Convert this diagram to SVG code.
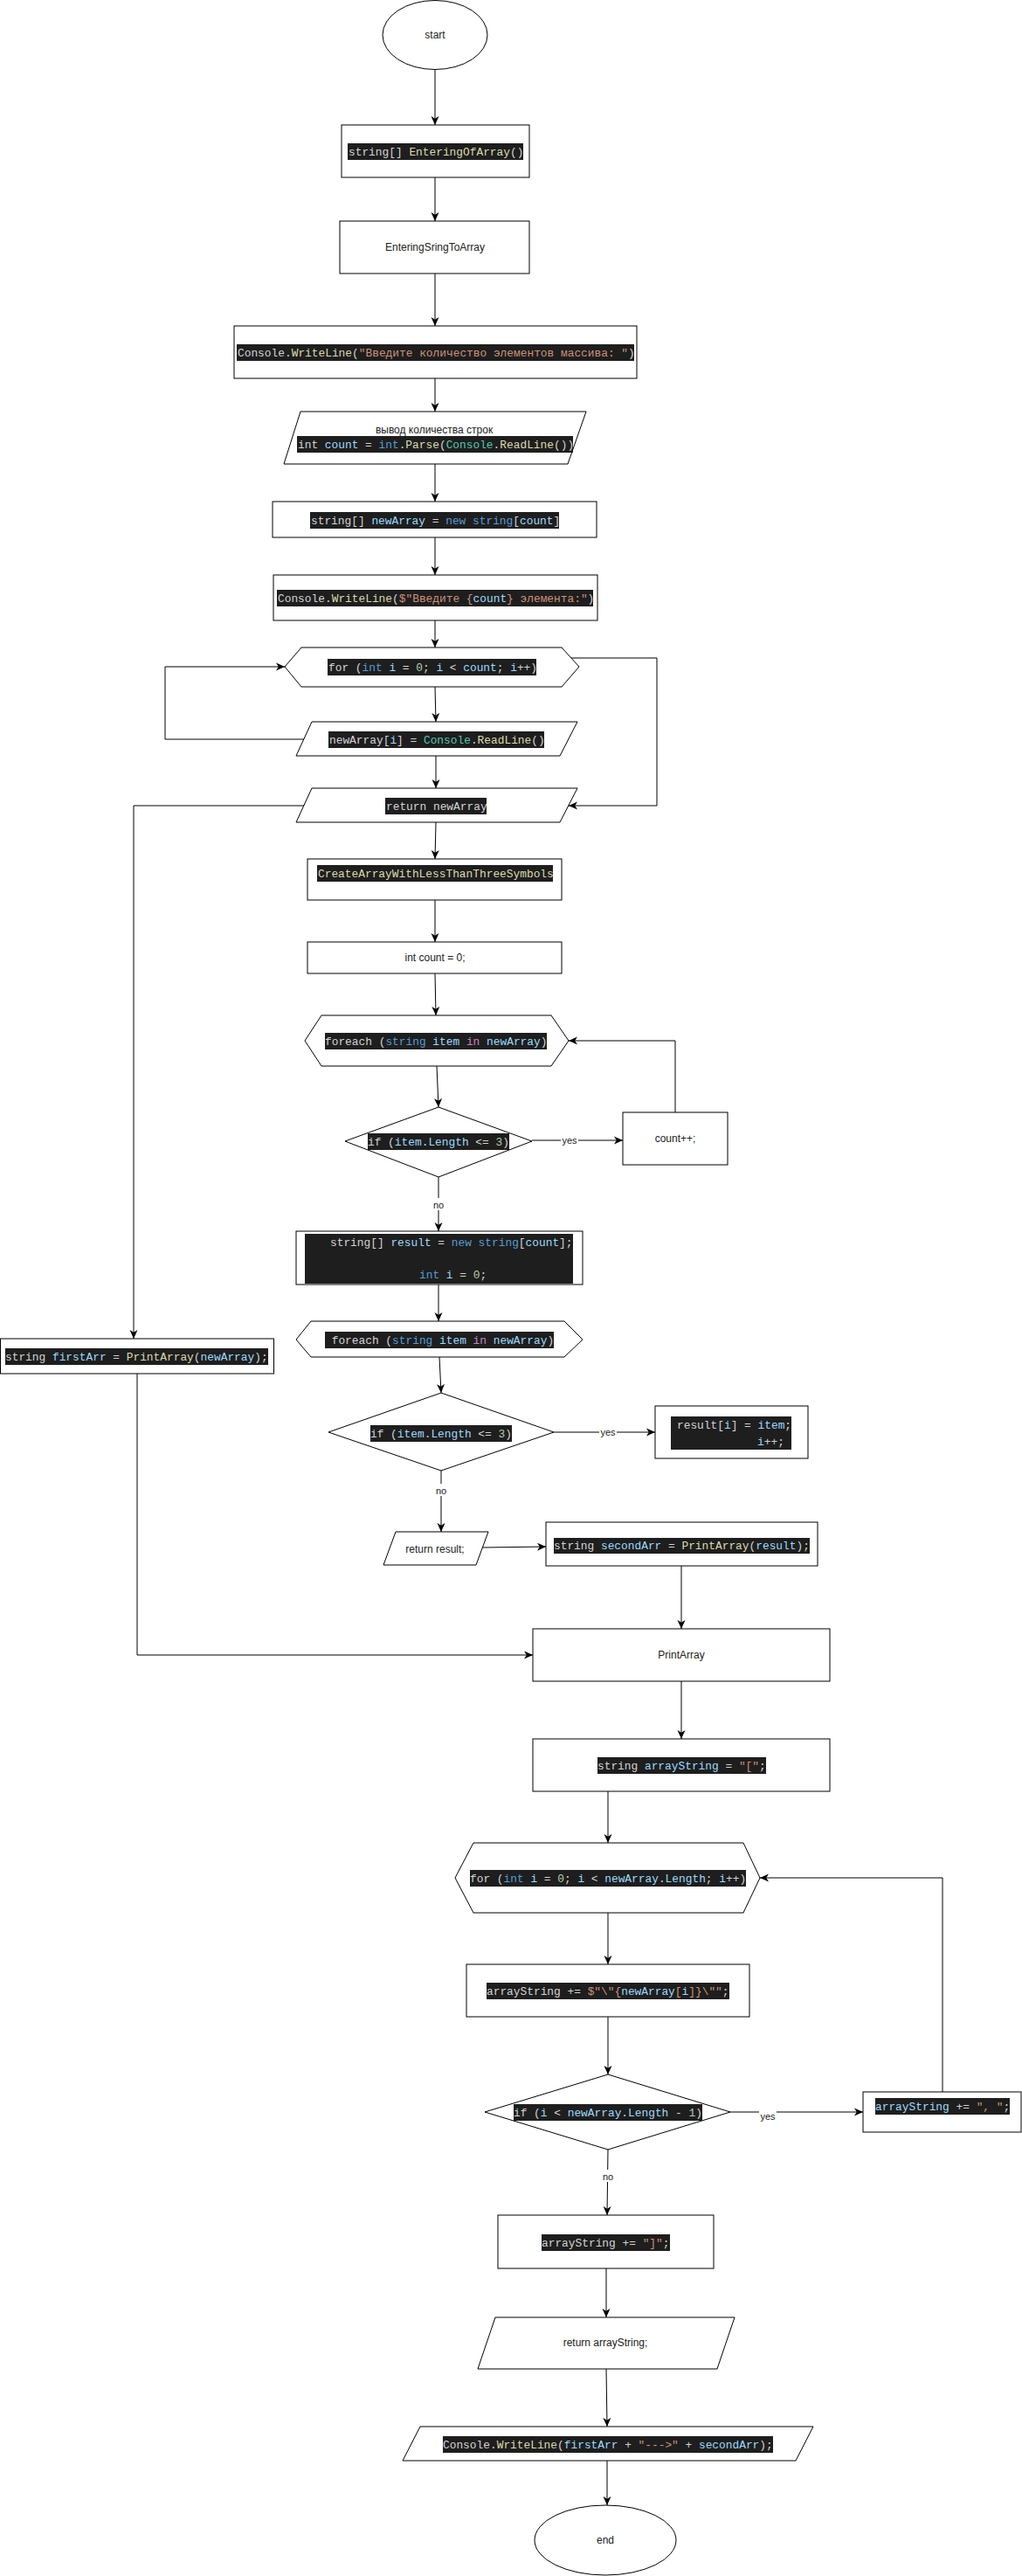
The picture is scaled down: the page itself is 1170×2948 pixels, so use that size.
<svg xmlns="http://www.w3.org/2000/svg" width="1170" height="2948" viewBox="0 0 1170 2948">
<style>
.n{fill:#fff;stroke:#000;stroke-width:1}
.bg{fill:#1e1e1e}
.c{font-family:"Liberation Mono","DejaVu Sans Mono",monospace;font-size:12.85px;fill:#d4d4d4;white-space:pre}
.t{font-family:"Liberation Sans",Arial,sans-serif;font-size:12px;fill:#222;text-anchor:middle}
.lbl{font-family:"Liberation Sans",Arial,sans-serif;font-size:11px;fill:#222;text-anchor:middle}
.e{fill:none;stroke:#000;stroke-width:1;marker-end:url(#arr)}
.lb{fill:#9cdcfe}.b{fill:#569cd6}.y{fill:#dcdcaa}.tl{fill:#4ec9b0}.o{fill:#ce9178}.g{fill:#b5cea8}.p{fill:#c586c0}
</style>
<defs>
<marker id="arr" markerUnits="userSpaceOnUse" markerWidth="10" markerHeight="10" refX="10" refY="5" orient="auto">
<path d="M0,0.5 L10,5 L0,9.5 L2.8,5 z" fill="#000"/>
</marker>
</defs>
<rect width="1170" height="2948" fill="#fff"/>

<g id="connectors">
<path class="e" d="M498,80 V143"/>
<path class="e" d="M498,203 V253"/>
<path class="e" d="M498,313 V373"/>
<path class="e" d="M498,433 V471"/>
<path class="e" d="M498,531 V574"/>
<path class="e" d="M498,615 V658"/>
<path class="e" d="M498,710 V741"/>
<path class="e" d="M498,786 L499,826"/>
<path class="e" d="M499,865 V902"/>
<path class="e" d="M348,846 H189 V763 H326"/>
<path class="e" d="M654,753 H752 V922 H651"/>
<path class="e" d="M499,941 L498,983"/>
<path class="e" d="M498,1030 V1078"/>
<path class="e" d="M498,1114 L499,1162"/>
<path class="e" d="M500,1220 L502,1267"/>
<path class="e" d="M609,1305 H713"/>
<path class="e" d="M773,1273 V1191 H651"/>
<path class="e" d="M502,1347 V1409"/>
<path class="e" d="M502,1470 V1512"/>
<path class="e" d="M503,1553 L505,1594"/>
<path class="e" d="M634,1639 H750"/>
<path class="e" d="M505,1683 V1753"/>
<path class="e" d="M552,1771 L625,1770"/>
<path class="e" d="M780,1792 V1864"/>
<path class="e" d="M348,922 H153 V1532"/>
<path class="e" d="M157,1572 V1894 H610"/>
<path class="e" d="M780,1924 V1990"/>
<path class="e" d="M696,2050 V2109"/>
<path class="e" d="M696,2189 V2248"/>
<path class="e" d="M696,2308 V2374"/>
<path class="e" d="M836,2417 H988"/>
<path class="e" d="M1079,2394 V2149 H870"/>
<path class="e" d="M696,2460 L695,2535"/>
<path class="e" d="M694,2596 V2652"/>
<path class="e" d="M694,2711 L695,2777"/>
<path class="e" d="M695,2816 V2867"/>
<!-- branch labels -->
<rect x="642" y="1297" width="20" height="14" fill="#fff"/>
<text class="lbl" x="652" y="1309">yes</text>
<rect x="494" y="1371" width="16" height="14" fill="#fff"/>
<text class="lbl" x="502" y="1383">no</text>
<rect x="686" y="1631" width="20" height="14" fill="#fff"/>
<text class="lbl" x="696" y="1643">yes</text>
<rect x="497" y="1698" width="16" height="14" fill="#fff"/>
<text class="lbl" x="505" y="1710">no</text>
<rect x="869" y="2413" width="20" height="14" fill="#fff"/>
<text class="lbl" x="879" y="2426">yes</text>
<rect x="688" y="2483" width="16" height="14" fill="#fff"/>
<text class="lbl" x="696" y="2495">no</text>
</g>

<g id="start">
<ellipse class="n" cx="498" cy="40" rx="60" ry="39.5"/>
<text class="t" x="498" y="44">start</text>
</g>

<g id="entering-of-array">
<rect class="n" x="391" y="143" width="215" height="60"/>
<rect class="bg" x="398" y="164" width="201" height="19"/>
<text class="c" x="399" y="178">string[] <tspan class="y">EnteringOfArray</tspan>()</text>
</g>

<g id="entering-string-to-array">
<rect class="n" x="389" y="253" width="217" height="60"/>
<text class="t" x="498" y="287">EnteringSringToArray</text>
</g>

<g id="prompt-count">
<rect class="n" x="268" y="373" width="461" height="60"/>
<rect class="bg" x="271" y="394" width="455" height="19"/>
<text class="c" x="272" y="408">Console.<tspan class="y">WriteLine</tspan>(<tspan class="o">"Введите количество элементов массива: "</tspan>)</text>
</g>

<g id="read-count">
<polygon class="n" points="344,471 671,471 650,531 325,531"/>
<text class="t" x="497" y="496">вывод количества строк</text>
<rect class="bg" x="340" y="499" width="316" height="19"/>
<text class="c" x="341" y="513">int <tspan class="lb">count</tspan> = <tspan class="b">int</tspan>.<tspan class="y">Parse</tspan>(<tspan class="tl">Console</tspan>.<tspan class="y">ReadLine</tspan>())</text>
</g>

<g id="new-array">
<rect class="n" x="312" y="574" width="371" height="41"/>
<rect class="bg" x="355" y="586" width="285" height="19"/>
<text class="c" x="356" y="600">string[] <tspan class="lb">newArray</tspan> = <tspan class="b">new</tspan> <tspan class="b">string</tspan>[<tspan class="lb">count</tspan>]</text>
</g>

<g id="prompt-elements">
<rect class="n" x="313" y="658" width="371" height="52"/>
<rect class="bg" x="317" y="675" width="362" height="19"/>
<text class="c" x="318" y="689">Console.<tspan class="y">WriteLine</tspan>(<tspan class="o">$"Введите {</tspan><tspan class="lb">count</tspan><tspan class="o">} элемента:"</tspan>)</text>
</g>

<g id="for-count">
<polygon class="n" points="326,763 345,741 643,741 663,763 643,786 345,786"/>
<rect class="bg" x="375" y="754" width="239" height="19"/>
<text class="c" x="376" y="768">for (<tspan class="b">int</tspan> <tspan class="lb">i</tspan> = <tspan class="g">0</tspan>; <tspan class="lb">i</tspan> &lt; <tspan class="lb">count</tspan>; <tspan class="lb">i</tspan>++)</text>
</g>

<g id="read-element">
<polygon class="n" points="357,826 661,826 641,865 339,865"/>
<rect class="bg" x="376" y="837" width="247" height="19"/>
<text class="c" x="377" y="851">newArray[<tspan class="lb">i</tspan>] = <tspan class="tl">Console</tspan>.<tspan class="y">ReadLine</tspan>()</text>
</g>

<g id="return-new-array">
<polygon class="n" points="357,902 661,902 641,941 339,941"/>
<rect class="bg" x="441" y="913" width="116" height="19"/>
<text class="c" x="442" y="927">return newArray</text>
</g>

<g id="create-array">
<rect class="n" x="352" y="983" width="291" height="47"/>
<rect class="bg" x="363" y="990" width="270" height="19"/>
<text class="c y" x="364" y="1004">CreateArrayWithLessThanThreeSymbols</text>
</g>

<g id="count-zero">
<rect class="n" x="352" y="1078" width="291" height="36"/>
<text class="t" x="498" y="1100">int count = 0;</text>
</g>

<g id="foreach-count">
<polygon class="n" points="349,1191 368,1162 631,1162 651,1191 631,1220 368,1220"/>
<rect class="bg" x="372" y="1182" width="254" height="19"/>
<text class="c" x="372" y="1196">foreach (<tspan class="b">string</tspan> <tspan class="lb">item</tspan> <tspan class="p">in</tspan> <tspan class="lb">newArray</tspan>)</text>
</g>

<g id="if-length-count">
<polygon class="n" points="395,1306 502,1267 609,1306 502,1347"/>
<rect class="bg" x="421" y="1297" width="162" height="19"/>
<text class="c" x="421" y="1311">if (<tspan class="lb">item</tspan>.<tspan class="lb">Length</tspan> &lt;= <tspan class="g">3</tspan>)</text>
</g>

<g id="count-inc">
<rect class="n" x="713" y="1273" width="120" height="60"/>
<text class="t" x="773" y="1307">count++;</text>
</g>

<g id="result-decl">
<rect class="n" x="339" y="1409" width="328" height="61"/>
<rect class="bg" x="349" y="1412" width="307" height="57"/>
<text class="c" x="378" y="1426">string[] <tspan class="lb">result</tspan> = <tspan class="b">new</tspan> <tspan class="b">string</tspan>[<tspan class="lb">count</tspan>];</text>
<text class="c" x="480" y="1463"><tspan class="b">int</tspan> <tspan class="lb">i</tspan> = <tspan class="g">0</tspan>;</text>
</g>

<g id="foreach-fill">
<polygon class="n" points="339,1533 356,1512 646,1512 667,1533 646,1553 356,1553"/>
<rect class="bg" x="372" y="1524" width="262" height="19"/>
<text class="c" x="372" y="1538"> foreach (<tspan class="b">string</tspan> <tspan class="lb">item</tspan> <tspan class="p">in</tspan> <tspan class="lb">newArray</tspan>)</text>
</g>

<g id="first-arr">
<rect class="n" x="0.5" y="1532" width="313" height="40"/>
<rect class="bg" x="6" y="1543" width="301" height="19"/>
<text class="c" x="6" y="1557">string <tspan class="lb">firstArr</tspan> = <tspan class="y">PrintArray</tspan>(<tspan class="lb">newArray</tspan>);</text>
</g>

<g id="if-length-fill">
<polygon class="n" points="376,1639 505,1594 634,1639 505,1683"/>
<rect class="bg" x="424" y="1631" width="162" height="19"/>
<text class="c" x="424" y="1645">if (<tspan class="lb">item</tspan>.<tspan class="lb">Length</tspan> &lt;= <tspan class="g">3</tspan>)</text>
</g>

<g id="result-assign">
<rect class="n" x="750" y="1609" width="175" height="60"/>
<rect class="bg" x="768" y="1621" width="138" height="38"/>
<text class="c" x="775" y="1635">result[<tspan class="lb">i</tspan>] = <tspan class="lb">item</tspan>;</text>
<text class="c" x="867" y="1654"><tspan class="lb">i</tspan>++;</text>
</g>

<g id="return-result">
<polygon class="n" points="453,1753 559,1753 545,1791 439,1791"/>
<text class="t" x="498" y="1777">return result;</text>
</g>

<g id="second-arr">
<rect class="n" x="625" y="1742" width="311" height="50"/>
<rect class="bg" x="634" y="1760" width="293" height="18"/>
<text class="c" x="634" y="1773">string <tspan class="lb">secondArr</tspan> = <tspan class="y">PrintArray</tspan>(<tspan class="lb">result</tspan>);</text>
</g>

<g id="print-array">
<rect class="n" x="610" y="1864" width="340" height="60"/>
<text class="t" x="780" y="1898">PrintArray</text>
</g>

<g id="array-string-init">
<rect class="n" x="610" y="1990" width="340" height="60"/>
<rect class="bg" x="684" y="2011" width="193" height="19"/>
<text class="c" x="684" y="2025">string <tspan class="lb">arrayString</tspan> = <tspan class="o">"["</tspan>;</text>
</g>

<g id="for-length">
<polygon class="n" points="521,2149 542,2109 851,2109 870,2149 851,2189 542,2189"/>
<rect class="bg" x="538" y="2140" width="316" height="19"/>
<text class="c" x="538" y="2154">for (<tspan class="b">int</tspan> <tspan class="lb">i</tspan> = <tspan class="g">0</tspan>; <tspan class="lb">i</tspan> &lt; <tspan class="lb">newArray</tspan>.<tspan class="lb">Length</tspan>; <tspan class="lb">i</tspan>++)</text>
</g>

<g id="append-item">
<rect class="n" x="534" y="2248" width="324" height="60"/>
<rect class="bg" x="557" y="2269" width="278" height="19"/>
<text class="c" x="557" y="2283">arrayString += <tspan class="o">$"\"{</tspan><tspan class="lb">newArray</tspan><tspan class="o">[</tspan><tspan class="lb">i</tspan><tspan class="o">]}\""</tspan>;</text>
</g>

<g id="if-not-last">
<polygon class="n" points="555,2417 696,2374 836,2417 696,2460"/>
<rect class="bg" x="588" y="2408" width="216" height="19"/>
<text class="c" x="588" y="2422">if (<tspan class="lb">i</tspan> &lt; <tspan class="lb">newArray</tspan>.<tspan class="lb">Length</tspan> - <tspan class="g">1</tspan>)</text>
</g>

<g id="append-separator">
<rect class="n" x="988" y="2394" width="181" height="46"/>
<rect class="bg" x="1002" y="2401" width="154" height="19"/>
<text class="c" x="1002" y="2415"><tspan class="lb">arrayString</tspan> += <tspan class="o">", "</tspan>;</text>
</g>

<g id="append-close">
<rect class="n" x="570" y="2535" width="247" height="61"/>
<rect class="bg" x="620" y="2557" width="147" height="19"/>
<text class="c" x="620" y="2571">arrayString += <tspan class="o">"]"</tspan>;</text>
</g>

<g id="return-array-string">
<polygon class="n" points="567,2652 841,2652 821,2711 547,2711"/>
<text class="t" x="693" y="2685">return arrayString;</text>
</g>

<g id="print-result">
<polygon class="n" points="481,2777 931,2777 911,2816 461,2816"/>
<rect class="bg" x="507" y="2788" width="378" height="19"/>
<text class="c" x="507" y="2802">Console.<tspan class="y">WriteLine</tspan>(<tspan class="lb">firstArr</tspan> + <tspan class="o">"---&gt;"</tspan> + <tspan class="lb">secondArr</tspan>);</text>
</g>

<g id="end">
<ellipse class="n" cx="693" cy="2907" rx="81" ry="40"/>
<text class="t" x="693" y="2911">end</text>
</g>
</svg>
